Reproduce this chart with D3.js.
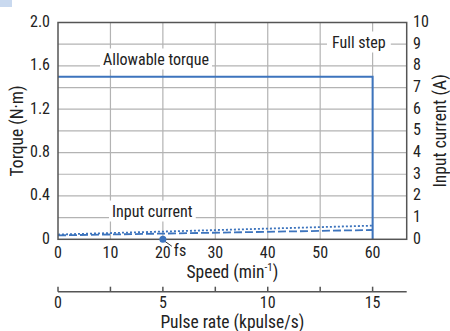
<!DOCTYPE html>
<html><head><meta charset="utf-8">
<script src="https://cdn.jsdelivr.net/npm/d3@7"></script>
<style>
body{margin:0;background:#fff;}
text{font-family:"Liberation Sans Narrow","Roboto Condensed",sans-serif;fill:#222;}
</style></head><body>
<svg id="c" width="450" height="331"></svg>
<script>
// Data
const speedTicks = [0,10,20,30,40,50,60];
const pulseTicks = [0,2.5,5,7.5,10,12.5,15];
const pulseLabels = [0,5,10,15];
const torqueTicks = [0,0.4,0.8,1.2,1.6,2.0];
const torqueTickLabels = ["0","0.4","0.8","1.2","1.6","2.0"];
const currentTicks = [0,1,2,3,4,5,6,7,8,9,10];
const allowSpeed = [0,60,60];
const allowTorque = [1.5,1.5,0];
const currDashSpeed = [0,60];
const currDashA = [0.18,0.43];
const currDotSpeed = [0,60];
const currDotA = [0.22,0.63];
const fsSpeed = 20;

const svg = d3.select("#c");
const L=58, R=406.7, T=22.5, B=239.3;
const x = d3.scaleLinear().domain([0,66.5]).range([L,R]);
const y = d3.scaleLinear().domain([0,2]).range([B,T]);
const yc = d3.scaleLinear().domain([0,10]).range([B,T]);
const xp = d3.scaleLinear().domain([0,66.5/4]).range([L,R]);

const blue="#3d74bd", grid="#b3b3b3", axc="#555";
const TICK=16, TITLE=17.5, LAB=16;

// small top-left mark
svg.append("rect").attr("x",0).attr("y",0).attr("width",12).attr("height",7).attr("fill","#c9d9ef");

// grid
const g = svg.append("g");
d3.range(0.2,2.0,0.2).forEach(v=>{
  g.append("line").attr("x1",L).attr("x2",R).attr("y1",y(v)).attr("y2",y(v)).attr("stroke",grid).attr("stroke-width",1.2);
});
speedTicks.filter(d=>d>0).forEach(v=>{
  g.append("line").attr("x1",x(v)).attr("x2",x(v)).attr("y1",T).attr("y2",B).attr("stroke",grid).attr("stroke-width",1.2);
});

// label boxes
function labelBox(tx,ty,txt,pad){
  const t = svg.append("text").attr("x",tx).attr("y",ty).attr("font-size",LAB).attr("dominant-baseline","central").text(txt);
  const bb = t.node().getBBox();
  svg.insert("rect", function(){return t.node();}).attr("x",bb.x-pad).attr("y",bb.y-1).attr("width",bb.width+2*pad).attr("height",bb.height+2).attr("fill","#fff");
  return t;
}

// allowable torque
const line = d3.line().x(d=>x(d[0])).y(d=>y(d[1]));
svg.append("path").datum(allowSpeed.map((s,i)=>[s,allowTorque[i]])).attr("d",line).attr("fill","none").attr("stroke",blue).attr("stroke-width",2);

// input current
const lineC = d3.line().x(d=>x(d[0])).y(d=>yc(d[1]));
svg.append("path").datum(currDashSpeed.map((s,i)=>[s,currDashA[i]])).attr("d",lineC).attr("fill","none").attr("stroke",blue).attr("stroke-width",1.8).attr("stroke-dasharray","8,3");
svg.append("path").datum(currDotSpeed.map((s,i)=>[s,currDotA[i]])).attr("d",lineC).attr("fill","none").attr("stroke",blue).attr("stroke-width",1.8).attr("stroke-dasharray","2,2");

// frame
svg.append("rect").attr("x",L).attr("y",T).attr("width",R-L).attr("height",B-T).attr("fill","none").attr("stroke",axc).attr("stroke-width",1.5);

labelBox(103,59,"Allowable torque",3);
labelBox(332,42,"Full step",5);
labelBox(112,211,"Input current",3);

// fs point
svg.append("line").attr("x1",x(fsSpeed)+2).attr("y1",B+2).attr("x2",x(fsSpeed)+9).attr("y2",B+7).attr("stroke","#333").attr("stroke-width",1);
svg.append("circle").attr("cx",x(fsSpeed)).attr("cy",y(0)).attr("r",3.5).attr("fill",blue);
svg.append("text").attr("x",x(fsSpeed)+11).attr("y",250).attr("font-size",LAB).attr("dominant-baseline","central").text("fs");

// tick labels
speedTicks.forEach(v=>{
  svg.append("text").attr("x",x(v)).attr("y",252).attr("font-size",TICK).attr("text-anchor","middle").attr("dominant-baseline","central").text(v);
});
torqueTicks.forEach((v,i)=>{
  svg.append("text").attr("x",50).attr("y",y(v)-1).attr("font-size",TICK).attr("text-anchor","end").attr("dominant-baseline","central").text(torqueTickLabels[i]);
});
currentTicks.forEach(v=>{
  svg.append("text").attr("x",413).attr("y",yc(v)-1).attr("font-size",TICK).attr("text-anchor","start").attr("dominant-baseline","central").text(v);
});

// axis titles
const st = svg.append("text").attr("x",(L+R)/2).attr("y",271.5).attr("font-size",TITLE).attr("text-anchor","middle").attr("dominant-baseline","central");
st.append("tspan").text("Speed (min");
st.append("tspan").attr("font-size",11).attr("dy",-5).text("-1");
st.append("tspan").attr("dy",5).text(")");
svg.append("text").attr("transform",`translate(17,${(T+B)/2}) rotate(-90)`).attr("font-size",TITLE).attr("text-anchor","middle").attr("dominant-baseline","central").text("Torque (N·m)");
svg.append("text").attr("transform",`translate(440,${(T+B)/2}) rotate(-90)`).attr("font-size",TITLE).attr("text-anchor","middle").attr("dominant-baseline","central").text("Input current (A)");

// pulse axis
const py = 291.7;
svg.append("line").attr("x1",L).attr("x2",R).attr("y1",py).attr("y2",py).attr("stroke",axc).attr("stroke-width",1.5);
pulseTicks.forEach(v=>{
  svg.append("line").attr("x1",xp(v)).attr("x2",xp(v)).attr("y1",py).attr("y2",py-5).attr("stroke",axc).attr("stroke-width",1.5);
});
pulseLabels.forEach(v=>{
  svg.append("text").attr("x",xp(v)).attr("y",302).attr("font-size",TICK).attr("text-anchor","middle").attr("dominant-baseline","central").text(v);
});
svg.append("text").attr("x",(L+R)/2).attr("y",321.5).attr("font-size",TITLE).attr("text-anchor","middle").attr("dominant-baseline","central").text("Pulse rate (kpulse/s)");
</script>
</body></html>
